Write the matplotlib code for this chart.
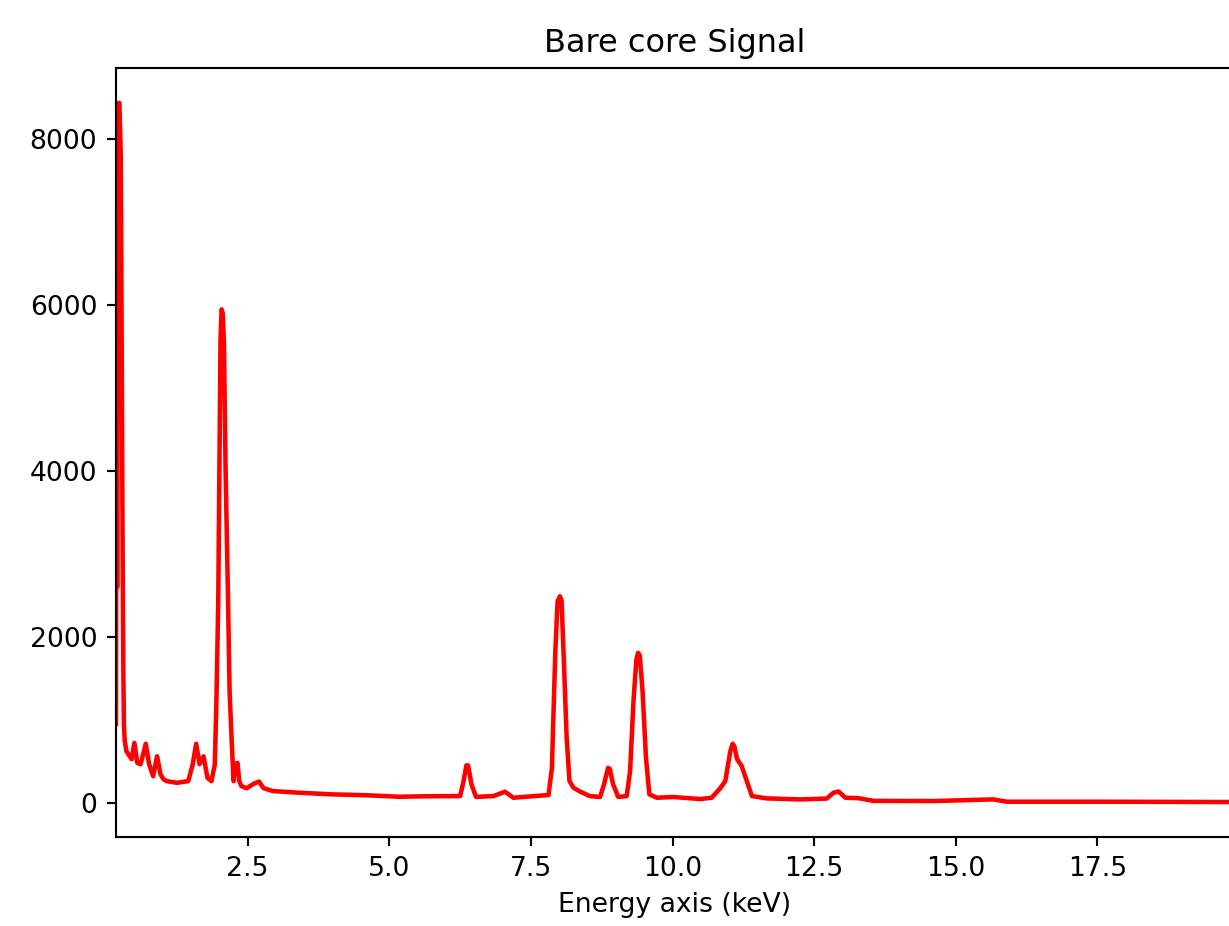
import matplotlib
matplotlib.use('Agg')
import matplotlib.pyplot as plt

LINE_COLOR = 'red'

# energy (keV) / counts
energy_kev = [
    0.175, 0.185, 0.195, 0.21, 0.235, 0.26, 0.285, 0.295, 0.305, 0.315,
    0.33, 0.36, 0.45, 0.50, 0.55, 0.61, 0.70, 0.76, 0.83, 0.90,
    0.96, 1.01, 1.07, 1.25, 1.45, 1.53, 1.59, 1.65, 1.72, 1.79,
    1.86, 1.92, 1.95, 1.98, 2.00, 2.02, 2.04, 2.06, 2.08, 2.11, 2.15,
    2.18, 2.22, 2.25, 2.28, 2.32, 2.35, 2.39, 2.48, 2.61, 2.70,
    2.78, 2.95, 3.42, 4.01, 4.60, 5.16, 5.70, 6.25, 6.31, 6.36, 6.39,
    6.45, 6.53, 6.84, 7.04, 7.19, 7.81, 7.87, 7.93, 7.97, 8.01, 8.04,
    8.07, 8.13, 8.18, 8.25, 8.37, 8.54, 8.72, 8.79, 8.86, 8.89, 8.95,
    9.04, 9.19, 9.25, 9.31, 9.36, 9.39, 9.42, 9.47, 9.53, 9.59, 9.72,
    10.01, 10.49, 10.69, 10.84, 10.93, 11.02, 11.06, 11.09, 11.14, 11.22, 11.31,
    11.40, 11.66, 12.25, 12.72, 12.84, 12.93, 13.05, 13.28, 13.55, 14.60,
    15.66, 15.90, 17.55, 19.91,
]
counts = [
    950, 5560, 2600, 8440, 8440, 7780, 4070, 2720, 1560, 925,
    740, 620, 525, 720, 480, 465, 710, 465, 320, 560,
    345, 285, 260, 240, 260, 465, 710, 465, 560, 300,
    260, 465, 1310, 2430, 4000, 5600, 5950, 5900, 5550, 4000, 2550,
    1345, 705, 260, 465, 480, 260, 200, 175, 230, 255,
    175, 140, 120, 100, 90, 72, 78, 80, 260, 450, 450,
    222, 70, 80, 133, 60, 93, 422, 1828, 2430, 2490, 2440,
    1908, 783, 261, 181, 133, 80, 69, 222, 420, 410, 222,
    69, 80, 382, 1226, 1720, 1807, 1780, 1346, 542, 101, 60,
    69, 44, 60, 173, 261, 623, 711, 680, 523, 442, 261,
    80, 52, 40, 50, 120, 135, 60, 55, 22, 20,
    40, 12, 12, 8,
]

W, H, DPI = 1229, 926, 192

fig = plt.figure(figsize=(W / DPI, H / DPI), dpi=DPI)
# the right spine falls just outside the saved image, as in the source
ax = fig.add_axes([116 / W, 89 / H, (1234 - 116) / W, (837 - 68) / H])

ax.plot(energy_kev, counts, color=LINE_COLOR, linewidth=1.7)
ax.margins(x=0)
ax.set_title('Bare core Signal')
ax.set_xlabel('Energy axis (keV)')

fig.savefig('out.png', dpi=DPI)
